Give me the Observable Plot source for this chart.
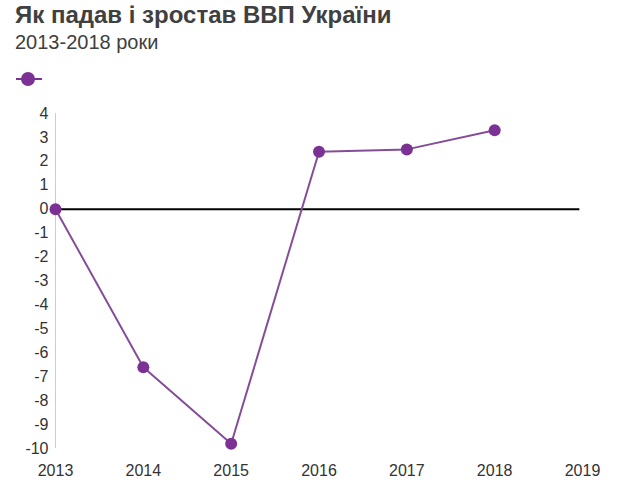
<!DOCTYPE html>
<html><head><meta charset="utf-8">
<script src="https://cdn.jsdelivr.net/npm/d3@7"></script>
<script src="https://cdn.jsdelivr.net/npm/@observablehq/plot@0.6"></script>
<style>
body{margin:0;background:#fff;font-family:"Liberation Sans",Arial,sans-serif;width:618px;}
#head{position:relative;height:100px;}
#title{position:absolute;left:15px;top:1px;font-size:24px;line-height:28px;font-weight:bold;color:#404040;white-space:nowrap;}
#sub{position:absolute;left:15px;top:30px;font-size:20px;line-height:24px;color:#404040;white-space:nowrap;}
#legend{position:absolute;left:14px;top:70px;}
</style></head><body>
<div id="head">
<div id="title">Як падав і зростав ВВП України</div>
<div id="sub">2013-2018 роки</div>
<svg id="legend" width="30" height="20"><line x1="2" x2="28" y1="9" y2="9" stroke="#7b3294" stroke-width="2"/><circle cx="14" cy="9" r="7" fill="#7b3294"/></svg>
</div>
<div id="chart"></div>
<script>
const years = [2013, 2014, 2015, 2016, 2017, 2018];
const gdp = [0, -6.6, -9.8, 2.4, 2.5, 3.3];
const yTicks = d3.range(-10, 5);
const xTicks = [2013, 2014, 2015, 2016, 2017, 2018, 2019];
const data = years.map((y, i) => ({year: y, value: gdp[i]}));

const chart = Plot.plot({
  width: 618,
  height: 396,
  marginLeft: 55,
  marginRight: 36,
  marginTop: 13,
  marginBottom: 48,
  style: {fontFamily: "'Liberation Sans', Arial, sans-serif", fontSize: "16px", color: "#333"},
  x: {domain: [2013, 2019]},
  y: {domain: [-10, 4]},
  marks: [
    Plot.axisY({ticks: yTicks, tickSize: 0, tickPadding: 7, tickFormat: d => String(d), label: null, fontSize: 16}),
    Plot.axisX({ticks: xTicks, tickSize: 0, tickPadding: 16, tickFormat: d => String(d), label: null, fontSize: 16}),
    Plot.ruleX([2013], {y1: -10, y2: 4, stroke: "#cccccc", strokeWidth: 1}),
    Plot.ruleY([0], {x1: 2013, x2: 2018.97, stroke: "#000", strokeWidth: 2}),
    Plot.line(data, {x: "year", y: "value", stroke: "#854d98", strokeWidth: 2}),
    Plot.dot(data, {x: "year", y: "value", r: 6, fill: "#7b3294", stroke: "none"})
  ]
});
document.getElementById("chart").appendChild(chart);
</script>
</body></html>
